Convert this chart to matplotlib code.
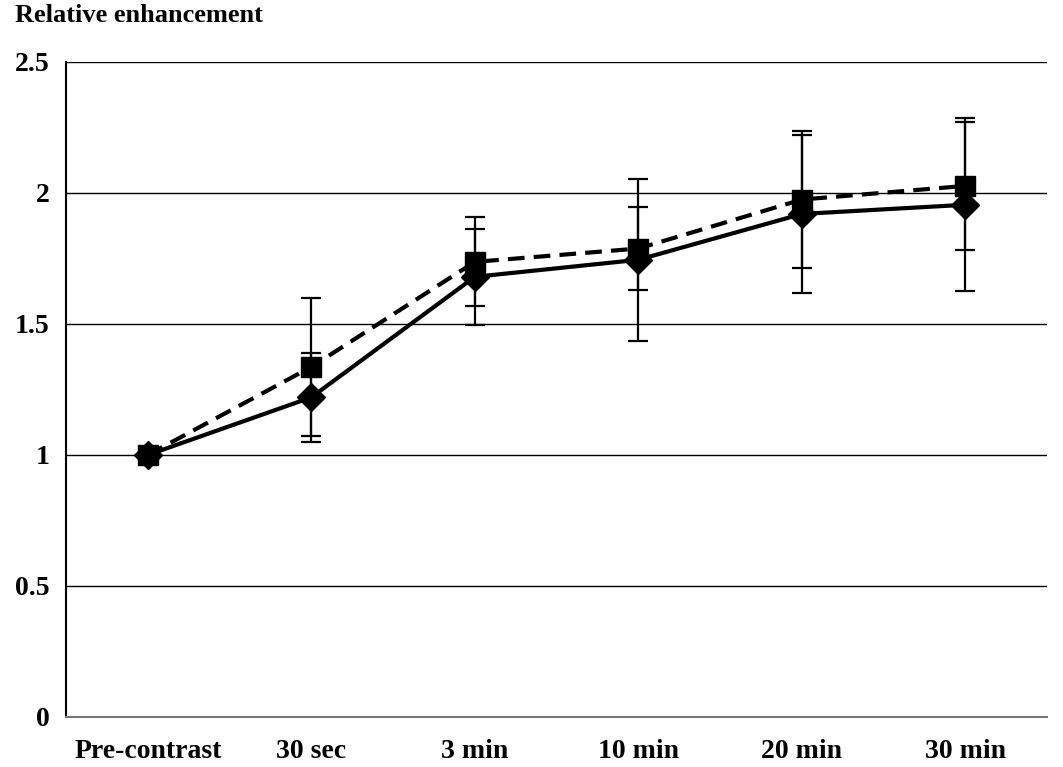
import numpy as np
import matplotlib
matplotlib.use("Agg")
import matplotlib.pyplot as plt

categories = ["Pre-contrast", "30 sec", "3 min", "10 min", "20 min", "30 min"]
solid_vals = [1.0, 1.22, 1.68, 1.745, 1.92, 1.955]
solid_err = [0.0, 0.17, 0.183, 0.31, 0.30, 0.33]
dashed_vals = [1.0, 1.336, 1.737, 1.788, 1.975, 2.027]
dashed_err = [0.0, 0.264, 0.17, 0.16, 0.262, 0.245]
yticks = [0, 0.5, 1, 1.5, 2, 2.5]

plt.rcParams["font.family"] = ["Liberation Serif", "DejaVu Serif"]
plt.rcParams["font.weight"] = "bold"

fig = plt.figure(figsize=(10.63, 7.67), dpi=100)
ax = fig.add_axes([0.0621, 0.0652, 0.923, 0.854])

x = np.arange(len(categories))

ax.errorbar(x, dashed_vals, yerr=dashed_err, color="black", lw=3, ls=(0, (4, 2.2)),
            marker="s", ms=14, capsize=7, elinewidth=1.6, capthick=1.6, zorder=3)
ax.errorbar(x, solid_vals, yerr=solid_err, color="black", lw=3, ls="-",
            marker="D", ms=14, capsize=7, elinewidth=1.6, capthick=1.6, zorder=4)

ax.set_xlim(-0.5, len(categories) - 0.5)
ax.set_ylim(0, 2.5)
ax.set_yticks(yticks)
ax.set_yticklabels(["0", "0.5", "1", "1.5", "2", "2.5"])
ax.set_xticks(x)
ax.set_xticklabels(categories)
ax.yaxis.grid(True, color="black", lw=1.0)
ax.set_axisbelow(True)
ax.tick_params(length=0, labelsize=20)
ax.tick_params(axis="y", pad=12)
ax.tick_params(axis="x", pad=16)

ax.spines["top"].set_visible(False)
ax.spines["right"].set_visible(False)
ax.spines["left"].set_color("black")
ax.spines["left"].set_linewidth(1.5)
ax.spines["bottom"].set_color("#777777")
ax.spines["bottom"].set_linewidth(1.5)

fig.text(0.014, 0.995, "Relative enhancement", fontsize=19, fontweight="bold",
         va="top", ha="left")

fig.savefig("out.png", dpi=100)
